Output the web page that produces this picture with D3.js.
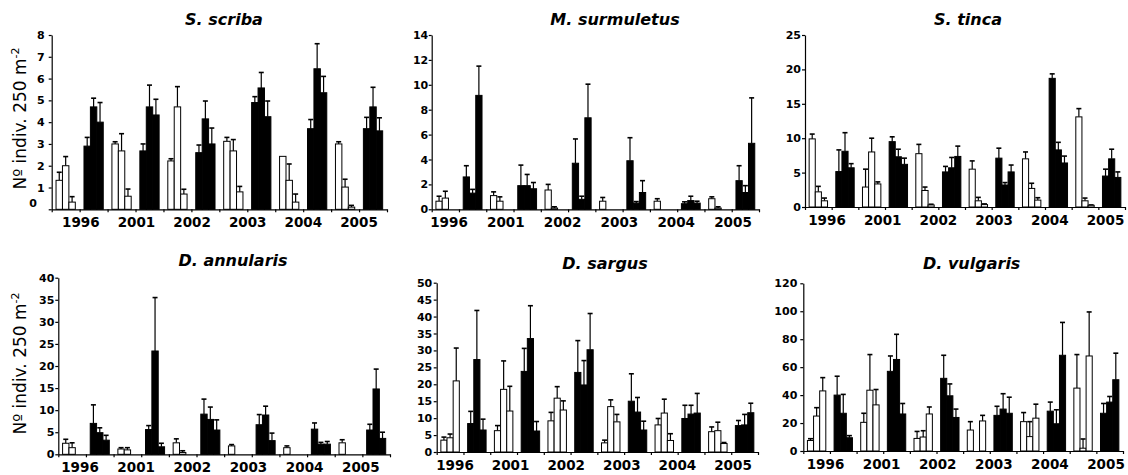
<!DOCTYPE html>
<html>
<head>
<meta charset="utf-8">
<script src="https://cdn.jsdelivr.net/npm/d3@7"></script>
<style>
  body { margin: 0; background: #fff; }
  svg { display: block; }
  text { font-family: "DejaVu Sans", Verdana, sans-serif; fill: #000; }
</style>
</head>
<body>
<svg id="chart" width="1128" height="475"></svg>
<script>
// Survey years; each year has a white group (3 sites) and a black group (3 sites)
const years = ["1996", "2001", "2002", "2003", "2004", "2005"];

// Mean abundance per year [site1, site2, site3] and the upper error (SE)
const scribaWhite    = [[1.33, 2.0, 0.33], [3.0, 2.68, 0.6], [2.22, 4.7, 0.7], [3.12, 2.68, 0.8], [2.43, 1.33, 0.33], [3.0, 1.02, 0.1]];
const scribaWhiteErr = [[0.37, 0.42, 0.25], [0.1, 0.79, 0.33], [0.1, 0.93, 0.22], [0.18, 0.52, 0.25], [0, 0.75, 0.37], [0.1, 0.36, 0.08]];
const scribaBlack    = [[2.9, 4.7, 4.0], [2.68, 4.7, 4.33], [2.6, 4.15, 3.0], [4.9, 5.57, 4.25], [3.7, 6.45, 5.35], [3.7, 4.7, 3.6]];
const scribaBlackErr = [[0.4, 0.4, 0.9], [0.32, 1.0, 0.72], [0.35, 0.82, 0.73], [0.27, 0.71, 0.72], [0.42, 1.15, 0.75], [0.52, 0.9, 0.6]];

const surmuletusWhite    = [[0.65, 0.9, 0], [1.1, 0.65, 0], [1.55, 0.1, 0], [0.65, 0, 0], [0.65, 0, 0], [0.85, 0.1, 0]];
const surmuletusWhiteErr = [[0.4, 0.55, 0], [0.3, 0.35, 0], [0.45, 0.1, 0], [0.3, 0, 0], [0.2, 0, 0], [0.15, 0.1, 0]];
const surmuletusBlack    = [[2.6, 1.3, 9.15], [1.9, 1.9, 1.65], [3.7, 0.8, 7.35], [3.9, 0.5, 1.35], [0.45, 0.7, 0.5], [2.3, 1.35, 5.3]];
const surmuletusBlackErr = [[0.9, 0.3, 2.35], [1.65, 0.9, 0.5], [1.95, 0.25, 2.7], [1.85, 0.12, 0.95], [0.15, 0.35, 0.15], [1.2, 0.55, 3.65]];

const tincaWhite    = [[9.9, 2.2, 0.9], [2.9, 8.0, 3.35], [7.75, 2.4, 0.3], [5.5, 0.9, 0.35], [7.0, 2.7, 1.0], [13.1, 0.9, 0.25]];
const tincaWhiteErr = [[0.7, 0.8, 0.4], [2.6, 2.0, 0.3], [1.35, 0.5, 0.1], [1.2, 0.5, 0.1], [1.0, 0.75, 0.35], [1.2, 0.4, 0.05]];
const tincaBlack    = [[5.15, 8.1, 5.7], [9.5, 7.3, 6.2], [5.1, 5.7, 7.35], [7.1, 3.2, 5.1], [18.7, 8.3, 6.4], [4.5, 7.0, 4.3]];
const tincaBlackErr = [[3.15, 2.7, 0.6], [0.7, 1.1, 0.9], [0.8, 1.5, 1.5], [1.45, 0.35, 1.0], [0.65, 1.1, 1.0], [1.0, 1.4, 0.8]];

const annularisWhite    = [[2.5, 1.5, 0], [1.2, 1.0, 0], [2.6, 0.4, 0], [1.9, 0, 0], [1.5, 0, 0], [2.6, 0, 0]];
const annularisWhiteErr = [[0.9, 1.1, 0], [0.3, 0.5, 0], [0.9, 0.4, 0], [0.3, 0, 0], [0.4, 0, 0], [0.7, 0, 0]];
const annularisBlack    = [[7.0, 4.9, 3.2], [5.6, 23.4, 1.7], [9.1, 7.9, 5.5], [6.7, 8.9, 3.1], [5.7, 2.3, 2.3], [5.5, 14.8, 3.6]];
const annularisBlackErr = [[4.2, 1.1, 1.1], [0.9, 12.1, 0.8], [3.4, 2.8, 2.3], [2.3, 2.0, 1.7], [1.4, 0.4, 0.6], [1.3, 4.5, 1.4]];

const sargusWhite    = [[3.5, 4.2, 21.0], [6.3, 18.5, 12.1], [9.2, 15.9, 12.4], [2.7, 13.4, 8.9], [8.0, 11.5, 3.4], [6.0, 6.3, 2.5]];
const sargusWhiteErr = [[0.9, 1.1, 9.7], [1.5, 8.4, 7.3], [2.5, 3.4, 2.7], [0.8, 2.0, 2.2], [1.9, 4.1, 2.0], [1.4, 2.5, 0.3]];
const sargusBlack    = [[8.4, 27.3, 6.5], [23.8, 33.5, 6.2], [23.5, 19.8, 30.2], [15.0, 11.8, 6.5], [9.9, 11.2, 11.5], [7.8, 8.0, 11.6]];
const sargusBlackErr = [[3.6, 14.5, 3.2], [6.8, 9.7, 2.8], [9.4, 7.2, 10.7], [8.1, 4.3, 2.6], [3.9, 2.6, 5.8], [1.5, 3.1, 2.8]];

const vulgarisWhite    = [[7.5, 25, 43], [20.5, 43.5, 33], [9, 10, 26.5], [15, 0, 21.5], [21, 10.3, 23.5], [45, 2, 68]];
const vulgarisWhiteErr = [[1.3, 6, 9.5], [6.5, 25.5, 11], [5, 4.5, 5], [6, 0, 4], [6.5, 10.7, 10], [24, 6.6, 31.5]];
const vulgarisBlack    = [[40, 27, 9.5], [57, 65.5, 26.5], [52, 39.5, 24], [25.5, 30, 27], [28.5, 19.5, 68.5], [27, 35, 51]];
const vulgarisBlackErr = [[13.5, 13.5, 1.5], [11, 18, 7.5], [16.5, 8.5, 6], [6.5, 11, 11.5], [6.5, 10, 23.5], [7, 4, 19]];

// Axis limits per species
const speciesNames = ["S. scriba", "M. surmuletus", "S. tinca", "D. annularis", "D. sargus", "D. vulgaris"];
const yMaxima = [8, 14, 25, 40, 50, 120];
const yStepSizes = [1, 2, 5, 5, 5, 20];

// Panel geometry (pixels)
const panels = [
  { white: scribaWhite, whiteErr: scribaWhiteErr, black: scribaBlack, blackErr: scribaBlackErr,
    x0: 51.7, x1: 387, y0: 209.3, y1: 35, titleX: 224, titleY: 25, labels: [80.8, 359], yTitle: [25.5, 118.5], hideZero: true, pad: 4 },
  { white: surmuletusWhite, whiteErr: surmuletusWhiteErr, black: surmuletusBlack, blackErr: surmuletusBlackErr,
    x0: 431.7, x1: 759, y0: 209.3, y1: 35, titleX: 615, titleY: 25, labels: [449, 733], pad: 0.5 },
  { white: tincaWhite, whiteErr: tincaWhiteErr, black: tincaBlack, blackErr: tincaBlackErr,
    x0: 805, x1: 1125, y0: 207, y1: 35, titleX: 968, titleY: 25, labels: [827, 1105.5], pad: 1 },
  { white: annularisWhite, whiteErr: annularisWhiteErr, black: annularisBlack, blackErr: annularisBlackErr,
    x0: 58.3, x1: 390, y0: 454.3, y1: 277.7, titleX: 233, titleY: 266, labels: [80, 360.8], yTitle: [25.5, 363.5], pad: 1 },
  { white: sargusWhite, whiteErr: sargusWhiteErr, black: sargusBlack, blackErr: sargusBlackErr,
    x0: 436.7, x1: 758, y0: 452, y1: 282.7, titleX: 605, titleY: 269, labels: [455, 733], pad: 1.5 },
  { white: vulgarisWhite, whiteErr: vulgarisWhiteErr, black: vulgarisBlack, blackErr: vulgarisBlackErr,
    x0: 803.3, x1: 1123, y0: 451, y1: 283.3, titleX: 971.7, titleY: 269, labels: [825.5, 1106], pad: 3 }
];

const svg = d3.select("#chart");
svg.append("rect").attr("width", 1128).attr("height", 475).attr("fill", "#fff");

panels.forEach((p, i) => {
  const g = svg.append("g");
  const yMax = yMaxima[i], step = yStepSizes[i];

  // Two categories per year: white group then black group
  const cats = d3.range(years.length * 2);
  const x = d3.scaleBand().domain(cats).range([p.x0, p.x1]).padding(0);
  const xs = d3.scaleBand().domain([0, 1, 2]).range([0, x.bandwidth()]).paddingInner(0).paddingOuter(0.675);
  const y = d3.scaleLinear().domain([0, yMax]).range([p.y0, p.y1]);

  const rows = [];
  years.forEach((yr, yi) => {
    [0, 1, 2].forEach(s => {
      rows.push({ cat: yi * 2, s, v: p.white[yi][s], e: p.whiteErr[yi][s], fill: "#fff" });
      rows.push({ cat: yi * 2 + 1, s, v: p.black[yi][s], e: p.blackErr[yi][s], fill: "#000" });
    });
  });
  const drawn = rows.filter(d => d.v > 0);

  // Error bars (upper only), drawn first so bars sit on top of their stems
  const eb = g.append("g").attr("stroke", "#000").attr("stroke-width", 1.2);
  drawn.filter(d => d.e > 0).forEach(d => {
    const cx = x(d.cat) + xs(d.s) + xs.bandwidth() / 2;
    eb.append("line").attr("x1", cx).attr("x2", cx).attr("y1", y(d.v)).attr("y2", y(d.v + d.e));
    eb.append("line").attr("x1", cx - 2.5).attr("x2", cx + 2.5).attr("y1", y(d.v + d.e)).attr("y2", y(d.v + d.e)).attr("stroke-width", 1.6);
  });

  g.append("g").selectAll("rect").data(drawn).join("rect")
    .attr("x", d => x(d.cat) + xs(d.s))
    .attr("width", xs.bandwidth())
    .attr("y", d => y(d.v))
    .attr("height", d => y(0) - y(d.v))
    .attr("fill", d => d.fill)
    .attr("stroke", "#000")
    .attr("stroke-width", 1);

  // Y axis
  const yAxis = d3.axisLeft(y)
    .tickValues(d3.range(0, yMax + step / 2, step))
    .tickSize(3).tickSizeOuter(0).tickPadding(p.pad)
    .tickFormat(v => (p.hideZero && v === 0) ? "" : d3.format("d")(v));
  const ya = g.append("g").attr("transform", `translate(${p.x0},0)`).call(yAxis);
  ya.selectAll("text").attr("font-size", 11).attr("font-weight", "bold").attr("font-family", "'DejaVu Sans', Verdana, sans-serif");
  ya.selectAll("path, line").attr("stroke", "#000").attr("stroke-width", 1.2);

  // X axis: ticks at every category boundary
  const xb = d3.scaleLinear().domain([0, cats.length]).range([p.x0, p.x1]);
  const xa = g.append("g").attr("transform", `translate(0,${p.y0})`)
    .call(d3.axisBottom(xb).tickValues(d3.range(cats.length + 1)).tickSize(3).tickSizeOuter(0).tickFormat(""));
  xa.selectAll("path, line").attr("stroke", "#000").attr("stroke-width", 1.2);

  // Year labels
  const xl = d3.scalePoint().domain(years).range(p.labels);
  g.append("g").selectAll("text").data(years).join("text")
    .attr("x", d => xl(d))
    .attr("y", p.y0 + 17.5)
    .attr("text-anchor", "middle")
    .attr("font-size", 13.5)
    .attr("font-weight", "bold")
    .text(d => d);

  // Species title
  g.append("text")
    .attr("x", p.titleX).attr("y", p.titleY)
    .attr("text-anchor", "middle")
    .attr("font-size", 16).attr("font-weight", "bold").attr("font-style", "italic")
    .text(speciesNames[i]);

  // Y axis title
  if (p.yTitle) {
    const t = g.append("text")
      .attr("transform", `translate(${p.yTitle[0]},${p.yTitle[1]}) rotate(-90)`)
      .attr("text-anchor", "middle")
      .attr("font-size", 17);
    t.append("tspan").text("Nº indiv. 250 m");
    t.append("tspan").attr("dy", -7).attr("font-size", 11).text("-2");
  }

  // Zero label set apart from the axis
  if (p.hideZero) {
    g.append("text").attr("x", 33).attr("y", 207)
      .attr("text-anchor", "middle").attr("font-size", 11).attr("font-weight", "bold").text("0");
  }
});
</script>
</body>
</html>
